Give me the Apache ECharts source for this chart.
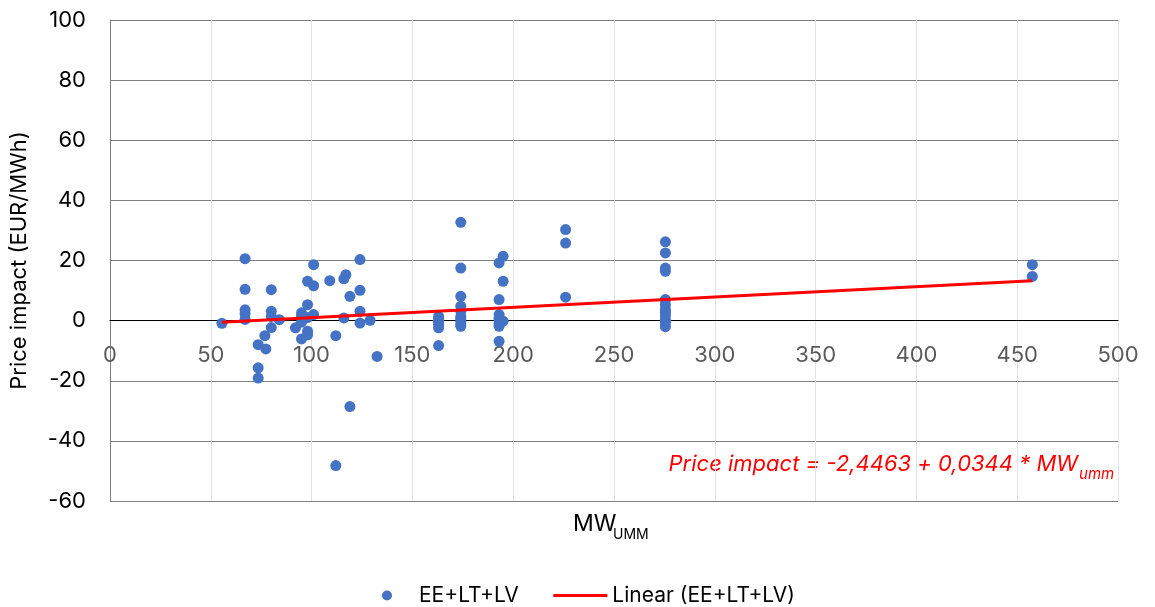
<!DOCTYPE html>
<html>
<head>
<meta charset="utf-8">
<script src="https://cdn.jsdelivr.net/npm/echarts@6/dist/echarts.min.js"></script>
<style>html,body{margin:0;padding:0;background:#fff}#c{width:1155px;height:607px}</style>
</head>
<body>
<div id="c"></div>
<script>
// MW_UMM values
const mwValues = [
  55.5,
  67, 67, 67, 67, 67,
  73.5, 73.5, 73.5, 76.8, 77.3,
  80, 80, 80, 80, 84,
  92, 95, 95, 95, 95,
  98, 98, 98, 98, 98,
  101, 101, 101, 109, 112, 112,
  116, 116, 117, 119, 119,
  124, 124, 124, 124, 129, 132.5,
  163, 163, 163, 163, 163, 163,
  174, 174, 174, 174, 174, 174, 174, 174, 174, 174,
  193, 193, 193, 193, 193, 193, 193, 193,
  195, 195, 195,
  226, 226, 226,
  275.5, 275.5, 275.5, 275.5, 275.5, 275.5, 275.5, 275.5, 275.5, 275.5, 275.5, 275.5,
  457.5, 457.5
];
// Price impact values (EUR/MWh)
const priceImpact = [
  -0.9,
  20.6, 10.4, 3.6, 2.3, 0.4,
  -8, -15.7, -19.1, -5, -9.4,
  10.3, 3.1, 1.4, -2.3, 0.3,
  -2.4, 2.6, 1.5, -6.1, -0.5,
  13.1, 5.3, -3.5, -4.7, 1,
  18.6, 11.6, 2, 13.3, -5, -48.2,
  13.9, 0.9, 15.3, 8.1, -28.6,
  20.3, 10.1, 3.1, -0.8, 0.1, -11.9,
  1.4, 0.6, -0.2, -1.2, -2.4, -8.3,
  32.7, 17.5, 8.1, 4.8, 3.1, 1.4, 0.6, -0.2, -1.2, -1.9,
  19.2, 7, 2, 1, 0.3, -1, -1.9, -6.9,
  21.4, 13.1, -0.2,
  30.3, 25.8, 7.8,
  26.2, 22.5, 17.5, 16.4, 7, 5.3, 3.7, 2.7, 1.7, 0.3, -0.7, -2,
  18.6, 14.7
];
// Linear trendline coefficients shown on the chart
const trendIntercept = -2.4463;
const trendSlope = 0.0344;
const xTicks = [0, 50, 100, 150, 200, 250, 300, 350, 400, 450, 500];
const yTicks = [-60, -40, -20, 0, 20, 40, 60, 80, 100];
const seriesName = 'EE+LT+LV';
const trendName = 'Linear (EE+LT+LV)';

const scatterData = mwValues.map((x, i) => [x, priceImpact[i]]);
const xMin = Math.min(...mwValues), xMax = Math.max(...mwValues);
const trendData = [xMin, xMax].map(x => [x, trendIntercept + trendSlope * x]);

const FONT = 'Inter, Roboto, sans-serif';
const GRID = {left: 107, right: 37, top: 20, bottom: 106};
const plotH = 607 - GRID.top - GRID.bottom;
const yMin = yTicks[0], yMax = yTicks[yTicks.length - 1];
const zeroOffset = -plotH * (0 - yMin) / (yMax - yMin);

const chart = echarts.init(document.getElementById('c'), null, {renderer: 'canvas'});
chart.setOption({
  animation: false,
  textStyle: {fontFamily: FONT},
  grid: Object.assign({containLabel: false}, GRID),
  xAxis: {
    type: 'value', min: xTicks[0], max: xTicks[xTicks.length - 1], interval: 50,
    offset: zeroOffset,
    axisLine: {show: true, onZero: false, lineStyle: {color: '#000', width: 1}},
    axisTick: {show: false},
    axisLabel: {margin: 24, fontSize: 22, color: '#595959', fontFamily: FONT},
    splitLine: {show: true, lineStyle: {color: '#e3e3e3', width: 1}}
  },
  yAxis: {
    type: 'value', min: yMin, max: yMax, interval: 20,
    name: 'Price impact (EUR/MWh)', nameLocation: 'middle', nameGap: 80,
    nameTextStyle: {fontSize: 22, color: '#000', fontFamily: FONT},
    axisLine: {show: true, lineStyle: {color: '#808080', width: 1}},
    axisTick: {show: false},
    axisLabel: {margin: 24, fontSize: 22, color: '#000', fontFamily: FONT},
    splitLine: {show: true, lineStyle: {color: '#808080', width: 1}}
  },
  legend: {
    top: 580, left: 377, itemGap: 33, itemWidth: 54, itemHeight: 10,
    textStyle: {fontSize: 21, color: '#000', fontFamily: FONT},
    data: [
      {name: seriesName, icon: 'circle', itemStyle: {color: '#4472C4'}},
      {name: trendName, itemStyle: {opacity: 0}, lineStyle: {color: '#ff0000', width: 3}}
    ]
  },
  graphic: [
    {type: 'text', x: 573, y: 513, style: {text: 'MW', font: '23px ' + FONT, fill: '#000', verticalAlign: 'top'}},
    {type: 'text', x: 613, y: 528, style: {text: 'UMM', font: '14px ' + FONT, fill: '#000', verticalAlign: 'top'}},
    {type: 'text', x: 1078, y: 453, style: {text: 'Price impact = -2,4463 + 0,0344 * MW', font: 'italic 22px ' + FONT, fill: '#ff0000', align: 'right', verticalAlign: 'top'}},
    {type: 'text', x: 1079, y: 467, style: {text: 'umm', font: 'italic 15px ' + FONT, fill: '#ff0000', verticalAlign: 'top'}}
  ],
  series: [
    {
      name: seriesName, type: 'scatter', data: scatterData, symbolSize: 11,
      itemStyle: {color: '#4472C4', opacity: 1}, z: 3
    },
    {
      name: trendName, type: 'line', data: trendData, symbol: 'none',
      lineStyle: {color: '#ff0000', width: 3}, itemStyle: {color: '#ff0000'}, z: 4
    }
  ]
});
</script>
</body>
</html>
